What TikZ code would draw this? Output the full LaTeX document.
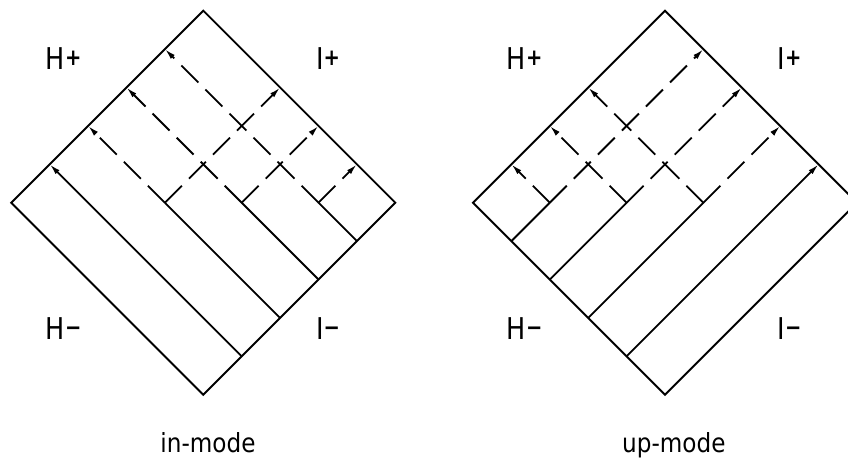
\documentclass[tikz,border=0pt]{standalone}
\usepackage{fontspec}
\setmainfont{DejaVu Sans}
\usetikzlibrary{arrows.meta}
\tikzset{
  rim/.style={line width=1.9pt, line join=miter},
  wave/.style={line width=1.8pt},
  dwave/.style={line width=1.8pt, dash pattern=on 24pt off 10pt},
  tipped/.style={-{Latex[length=11pt,width=5.5pt]}},
  lab/.style={anchor=base west, inner sep=0pt, font=\fontsize{30}{30}\selectfont, xscale=0.85},
  modelab/.style={anchor=base west, inner sep=0pt, font=\fontsize{26.3}{26.3}\selectfont, xscale=0.88},
}
\newcommand{\smsym}[1]{\raisebox{4pt}{\fontsize{23}{23}\selectfont\bfseries #1}}
\newcommand{\drawmode}[1]{%
  \coordinate (#1L) at (-192,0);
  \coordinate (#1T) at (0,-192);
  \coordinate (#1R) at (192,0);
  \coordinate (#1B) at (0,192);
  \draw[rim] (#1L) -- (#1T) -- (#1R) -- (#1B) -- cycle;
  \foreach \k in {1,...,4} {
    \coordinate (#1S\k) at ({38.4*\k},{192-38.4*\k});
    \coordinate (#1J\k) at ({-192+76.8*\k},0);
    \coordinate (#1E\k) at ({-192+38.4*\k},{-38.4*\k});
    \coordinate (#1F\k) at ({38.4*\k},{-192+38.4*\k});
  }
  \draw[wave,tipped] (#1S1) -- (#1E1);
  \foreach \k in {2,3,4} {
    \draw[wave] (#1S\k) -- (#1J\k);
    \draw[dwave,tipped] (#1J\k) -- (#1E\k);
    \draw[dwave,tipped] (#1J\k) -- (#1F\k);
  }
}
\begin{document}
\begin{tikzpicture}[x=1pt,y=-1pt]
  \useasboundingbox (0,0) rectangle (848,459);
  \fill[white] (0,0) rectangle (848,459);
  \clip (0,0) rectangle (848,459);
  % in-mode diagram
  \begin{scope}[shift={(203.3,202.7)}]
    \drawmode{a}
  \end{scope}
  % up-mode diagram (mirror image)
  \begin{scope}[shift={(665,202.7)}, xscale=-1]
    \drawmode{b}
  \end{scope}
  % labels, left
  \node[lab] (aHp) at (45.8,69.3) {H\smsym{+}};
  \node[lab] (aIp) at (316,69.3) {I\smsym{+}};
  \node[lab] (aHm) at (45.8,339.3) {H\smsym{−}};
  \node[lab] (aIm) at (316,339.3) {I\smsym{−}};
  \node[modelab] (amode) at (160.3,452) {in-mode};
  % labels, right
  \node[lab] (bHp) at (506.8,69.3) {H\smsym{+}};
  \node[lab] (bIp) at (777.5,69.3) {I\smsym{+}};
  \node[lab] (bHm) at (506.8,339.3) {H\smsym{−}};
  \node[lab] (bIm) at (777.5,339.3) {I\smsym{−}};
  \node[modelab] (bmode) at (622,452) {up-mode};
\end{tikzpicture}
\end{document}
